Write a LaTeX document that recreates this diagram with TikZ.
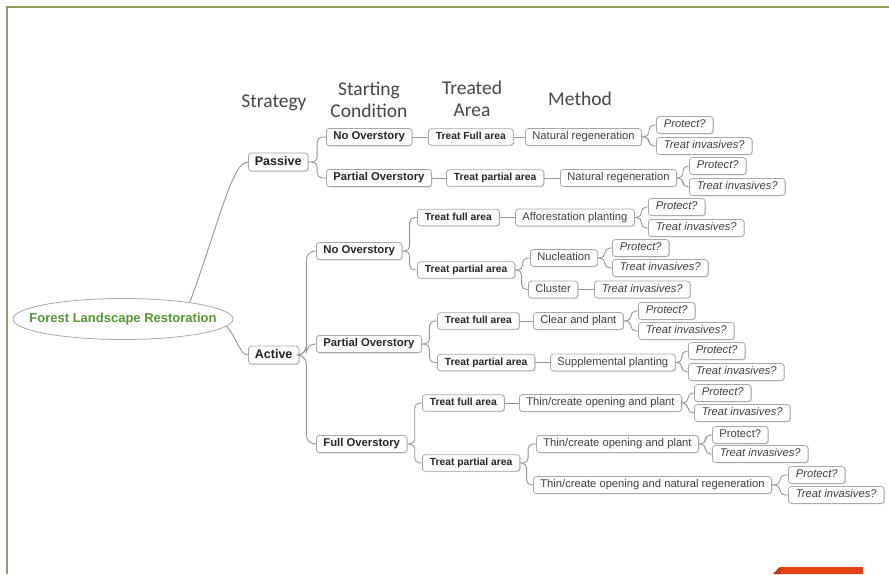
\documentclass[tikz,border=0pt]{standalone}
\usepackage{fontspec}
\setmainfont{Liberation Sans}
\newfontfamily\headfont{Carlito}
\usetikzlibrary{calc}
\usetikzlibrary{shapes}
\usetikzlibrary{shadows}

\definecolor{frameolive}{RGB}{152,152,92}
\definecolor{boxgray}{RGB}{168,168,168}
\definecolor{linkgray}{RGB}{150,150,150}
\definecolor{rootgreen}{RGB}{86,150,52}
\definecolor{tabred}{RGB}{228,66,20}
\definecolor{tabdark}{RGB}{176,58,28}

\begin{document}
\begin{tikzpicture}[x=1pt, y=-1pt,
box/.style={draw=boxgray, line width=.8pt, rounded corners=3pt, fill=white, anchor=west, inner ysep=3.2pt, text depth=2.5pt,
  drop shadow={shadow xshift=.8pt, shadow yshift=-.8pt, fill=black, opacity=.15}},
strat/.style={box, font=\bfseries\fontsize{12.5}{14}\selectfont, text=black!88, inner xsep=6.5pt, text height=9pt},
cond/.style={box, font=\bfseries\fontsize{11.3}{13}\selectfont, text=black!85, inner xsep=7pt, text height=8.3pt},
area/.style={box, font=\bfseries\fontsize{10.3}{12}\selectfont, text=black!85, inner xsep=7.5pt, text height=7.6pt},
meth/.style={box, font=\fontsize{11.2}{13}\selectfont, text=black!75, inner xsep=7pt, text height=8pt},
opt/.style={meth, font=\itshape\fontsize{11.2}{13}\selectfont, inner xsep=7.5pt},
head/.style={font=\headfont\fontsize{19.5}{22}\selectfont, text=black!72, anchor=base, align=center},
link/.style={draw=linkgray, line width=.9pt, rounded corners=5pt},
trunk/.style={link, rounded corners=9pt}]

%%%%%% FRAME %%%%%%%%%%

\useasboundingbox (0,0) rectangle (889,574);
\fill[white] (0,0) rectangle (889,574);
\draw[frameolive, line width=1.6pt] (7,574) -- (7,7) -- (889,7);
\fill[tabred] (780,567) -- (863,567) -- (863,574) -- (773,574) -- cycle;
\fill[tabdark] (773,574) -- (780,567) -- (780,574) -- cycle;

%%%%%% HEADINGS %%%%%%%%%%

\node[head] (hstrat) at (274,107) {Strategy};
\node[head] (hcond) at (369,117) {Starting\\Condition};
\node[head] (harea) at (472,116) {Treated\\Area};
\node[head] (hmeth) at (580,105) {Method};

%%%%%% TREE %%%%%%%%%%

\node[ellipse, draw=boxgray, line width=.8pt, minimum width=220, minimum height=41, inner xsep=-16pt, inner ysep=0pt,
  font=\bfseries\fontsize{13}{15}\selectfont, text=rootgreen] (root) at (123,319) {Forest Landscape Restoration};

\node[strat] (passive) at (248,162) {Passive};
\node[strat] (active) at (248,355) {Active};

\node[cond] (pno) at (326,137) {No Overstory};
\node[cond] (ppart) at (326,178) {Partial Overstory};
\node[cond] (ano) at (316,251) {No Overstory};
\node[cond] (apart) at (316,344) {Partial Overstory};
\node[cond] (afull) at (316,444) {Full Overstory};

\node[area] (pnofull) at (428,137) {Treat Full area};
\node[area] (ppartpart) at (446,178) {Treat partial area};
\node[area] (anofull) at (417,217.5) {Treat full area};
\node[area] (anopart) at (417,270) {Treat partial area};
\node[area] (apartfull) at (437,321) {Treat full area};
\node[area] (apartpart) at (437,362.5) {Treat partial area};
\node[area] (afullfull) at (422,403) {Treat full area};
\node[area] (afullpart) at (422,463) {Treat partial area};

\node[meth] (m1) at (525,137) {Natural regeneration};
\node[meth] (m2) at (560,178) {Natural regeneration};
\node[meth] (m3) at (515,217.5) {Afforestation planting};
\node[meth] (m4) at (530,258) {Nucleation};
\node[meth] (m5) at (528,289.5) {Cluster};
\node[meth] (m6) at (533,321) {Clear and plant};
\node[meth] (m7) at (550,362.5) {Supplemental planting};
\node[meth] (m8) at (519,403) {Thin/create opening and plant};
\node[meth] (m9) at (536,444) {Thin/create opening and plant};
\node[meth] (m10) at (533,485) {Thin/create opening and natural regeneration};

\node[opt] (p1) at (656,125) {Protect?};
\node[opt] (t1) at (656,146) {Treat invasives?};
\node[opt] (p2) at (689,166) {Protect?};
\node[opt] (t2) at (689,187) {Treat invasives?};
\node[opt] (p3) at (648,207) {Protect?};
\node[opt] (t3) at (648,228) {Treat invasives?};
\node[opt] (p4) at (612,248) {Protect?};
\node[opt] (t4) at (612,268) {Treat invasives?};
\node[opt] (t5) at (594,289.5) {Treat invasives?};
\node[opt] (p6) at (638,311) {Protect?};
\node[opt] (t6) at (638,331) {Treat invasives?};
\node[opt] (p7) at (688,351) {Protect?};
\node[opt] (t7) at (688,372) {Treat invasives?};
\node[opt] (p8) at (694,393) {Protect?};
\node[opt] (t8) at (694,413) {Treat invasives?};
\node[meth] (p9) at (712,435) {Protect?};
\node[opt] (t9) at (712,454) {Treat invasives?};
\node[opt] (p10) at (788,475) {Protect?};
\node[opt] (t10) at (788,495) {Treat invasives?};

%%%%%% BRANCHES %%%%%%%%%%

\draw[link] (root.14) .. controls (220,220) and (232,162) .. (passive.west);
\draw[link] (root.-4) .. controls (238,340) and (240,355) .. (active.west);

\foreach \b in {ano, apart, afull}
  \draw[trunk] (active.east) -- ++(7,0) |- (\b.west);

\foreach \a/\b in {passive/pno, passive/ppart, ano/anofull, ano/anopart, apart/apartfull, apart/apartpart,
  afull/afullfull, afull/afullpart, anopart/m4, anopart/m5, afullpart/m9, afullpart/m10,
  m1/p1, m1/t1, m2/p2, m2/t2, m3/p3, m3/t3, m4/p4, m4/t4, m6/p6, m6/t6,
  m7/p7, m7/t7, m8/p8, m8/t8, m9/p9, m9/t9, m10/p10, m10/t10}
  \draw[link] (\a.east) -- ($(\a.east)!.5!(\a.east -| \b.west)$) |- (\b.west);

\foreach \a/\b in {pno/pnofull, pnofull/m1, ppart/ppartpart, ppartpart/m2, anofull/m3, m5/t5,
  apartfull/m6, apartpart/m7, afullfull/m8}
  \draw[link] (\a.east) -- (\b.west);

\end{tikzpicture}
\end{document}
